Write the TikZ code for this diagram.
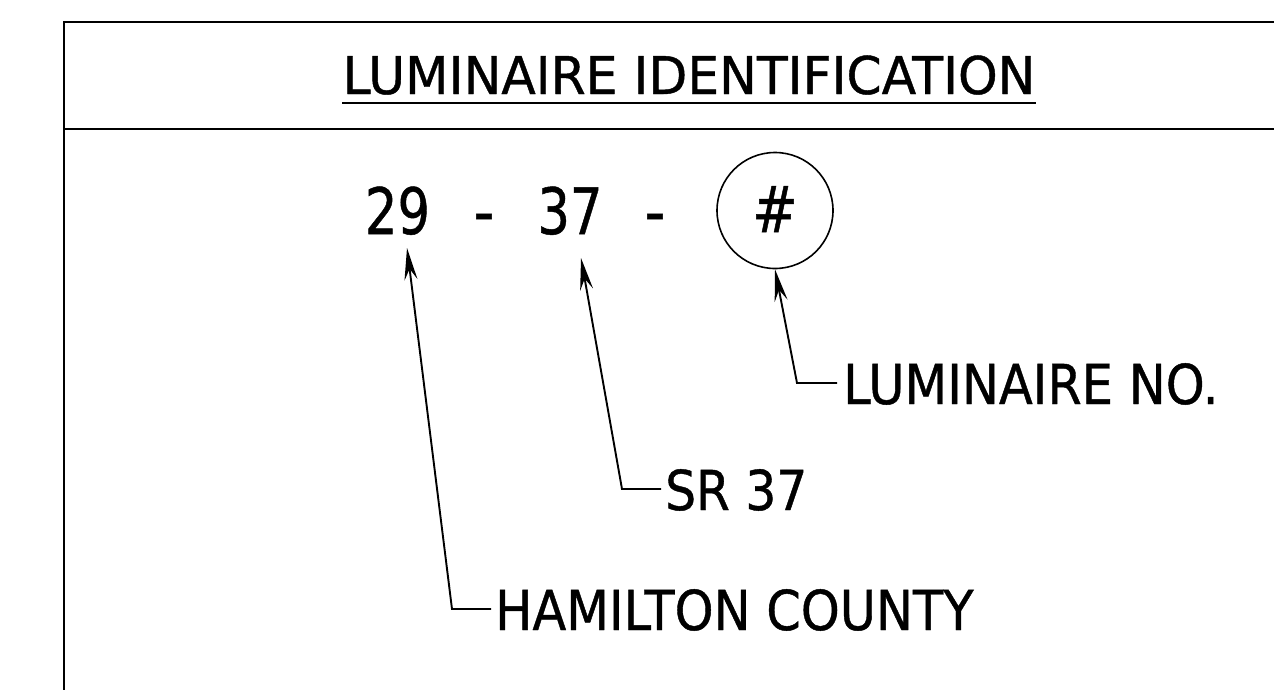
\documentclass[tikz,border=0pt]{standalone}
\usepackage{fontspec}
\setmainfont{DejaVu Sans}[FakeBold=0.8]
\usetikzlibrary{arrows.meta,calc}
\tikzset{
  frame/.style={line width=1.6pt},
  leader/.style={line width=1.9pt, -{Stealth[length=32pt,width=13pt,inset=11pt]}},
  ttl/.style={inner sep=0pt, anchor=base, font=\fontsize{52}{60}\selectfont},
  num/.style={inner sep=0pt, anchor=base, font=\fontsize{64}{72}\selectfont},
  lbl/.style={inner sep=0pt, anchor=base west, font=\fontsize{55}{62}\selectfont},
}
\begin{document}
\begin{tikzpicture}[x=1pt,y=-1pt]
\useasboundingbox (0,0) rectangle (1274,689);
% frame
\draw[frame] (1280,22) -- (64,22) -- (64,695);
\draw[frame] (64,129) -- (1280,129);
% title
\node[ttl] (title) at (689,94) {\scalebox{0.97}[1]{LUMINAIRE IDENTIFICATION}};
\draw[line width=1.6pt] ($(title.base west)+(0,9)$) -- ($(title.base east)+(0,9)$);
% number row
\node[num] (n29) at (397.5,234) {\scalebox{0.8}[1]{29}};
\node[num] (d1) at (484,234) {\scalebox{0.9}[1]{-}};
\node[num] (n37) at (570,234) {\scalebox{0.8}[1]{37}};
\node[num] (d2) at (655,234) {\scalebox{0.9}[1]{-}};
\node[circle, draw, line width=1.6pt, minimum size=116pt, inner sep=0pt] (cir) at (775,210.5) {};
\node[num] (hash) at (775,232) {\scalebox{0.85}[1]{\#}};
% labels
\node[lbl] (lum) at (843,404) {\scalebox{0.9}[1]{LUMINAIRE NO.}};
\node[lbl] (sr) at (665,510) {\scalebox{0.885}[1]{SR 37}};
\node[lbl] (ham) at (495,630) {\scalebox{0.9}[1]{HAMILTON COUNTY}};
% leader points
\coordinate (lumC) at (797,383);
\coordinate (srC) at (622,489);
\coordinate (tip37) at (581,258);
\coordinate (hamC) at (452,609);
\coordinate (tip29) at (407,248);
\draw[leader] ($(lum.base west)+(-6,-21)$) -- (lumC) -- (cir.south);
\draw[leader] ($(sr.base west)+(-4,-21)$) -- (srC) -- (tip37);
\draw[leader] ($(ham.base west)+(-4,-21)$) -- (hamC) -- (tip29);
\end{tikzpicture}
\end{document}
